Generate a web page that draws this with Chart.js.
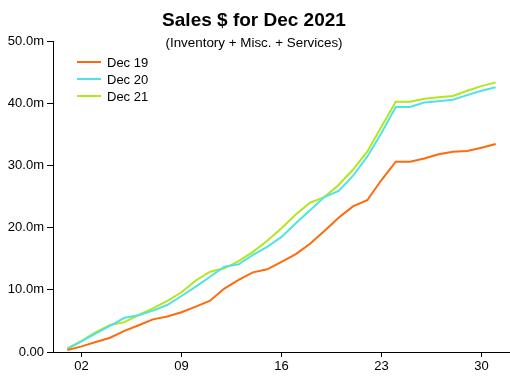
<!DOCTYPE html>
<html>
<head>
<meta charset="utf-8">
<script src="https://cdn.jsdelivr.net/npm/chart.js@4"></script>
<style>
  html, body { margin: 0; padding: 0; background: #fff; }
  #wrap { width: 510px; height: 382px; position: relative; }
</style>
</head>
<body>
<div id="wrap"><canvas id="salesChart"></canvas></div>
<script>
const days = [1,2,3,4,5,6,7,8,9,10,11,12,13,14,15,16,17,18,19,20,21,22,23,24,25,26,27,28,29,30,31];
const dec19 = [0.3,0.9,1.6,2.3,3.4,4.3,5.25,5.7,6.4,7.3,8.25,10.2,11.6,12.8,13.3,14.5,15.75,17.4,19.45,21.6,23.4,24.4,27.65,30.6,30.6,31.1,31.8,32.2,32.3,32.85,33.45];
const dec20 = [0.45,1.7,3.0,4.2,5.5,5.9,6.65,7.55,9.0,10.5,12.1,13.7,14.1,15.6,16.9,18.5,20.7,22.8,24.9,25.9,28.3,31.4,35.2,39.4,39.4,40.1,40.3,40.55,41.3,42.0,42.55];
const dec21 = [0.6,1.8,3.2,4.35,4.8,5.95,7.0,8.2,9.6,11.5,12.9,13.45,14.6,16.1,17.9,19.9,22.1,24.0,24.9,26.85,29.3,32.2,36.2,40.25,40.25,40.7,40.95,41.15,42.0,42.75,43.35];
const seriesNames = ['Dec 19', 'Dec 20', 'Dec 21'];
const xTicks = [2, 9, 16, 23, 30];
const yTicks = [0, 10, 20, 30, 40, 50];
const chartTitle = 'Sales $ for Dec 2021';
const chartSubtitle = '(Inventory + Misc. + Services)';

const colors = ['#ff6a0a', '#50e3e3', '#b2e61e'];
const FONT = '"Liberation Sans", Arial, sans-serif';

function toPoints(vals) {
    return vals.map((v, i) => ({ x: days[i], y: v }));
}

// title, subtitle and in-plot legend
const decorPlugin = {
    id: 'decor',
    afterDraw(chart) {
        const ctx = chart.ctx;
        ctx.save();
        ctx.fillStyle = '#000';
        ctx.textAlign = 'center';
        ctx.textBaseline = 'middle';
        ctx.font = 'bold 19px ' + FONT;
        ctx.fillText(chartTitle, 254, 21);
        ctx.font = '13.4px ' + FONT;
        ctx.fillText(chartSubtitle, 254, 43);

        ctx.textAlign = 'left';
        chart.data.datasets.forEach((ds, i) => {
            const y = 62 + i * 17;
            ctx.strokeStyle = ds.borderColor;
            ctx.lineWidth = 2;
            ctx.beginPath();
            ctx.moveTo(77, y);
            ctx.lineTo(101, y);
            ctx.stroke();
            ctx.fillStyle = '#000';
            ctx.font = '13px ' + FONT;
            ctx.fillText(ds.label, 107, y + 1);
        });
        ctx.restore();
    }
};

const ctx = document.getElementById('salesChart').getContext('2d');
new Chart(ctx, {
    type: 'line',
    data: {
        datasets: [dec19, dec20, dec21].map((vals, i) => ({
            label: seriesNames[i],
            data: toPoints(vals),
            borderColor: colors[i],
            backgroundColor: colors[i],
            borderWidth: 2,
            pointRadius: 0,
            tension: 0,
            fill: false
        }))
    },
    options: {
        responsive: true,
        maintainAspectRatio: false,
        animation: false,
        layout: { padding: { top: 41, right: 0, bottom: 0, left: 0 } },
        plugins: {
            legend: { display: false },
            title: { display: false },
            tooltip: { enabled: false }
        },
        scales: {
            x: {
                type: 'linear',
                min: 0,
                max: 32,
                afterBuildTicks: (scale) => { scale.ticks = xTicks.map(v => ({ value: v })); },
                afterFit: (scale) => { scale.height = 30; },
                border: { display: true, color: '#000', width: 1 },
                grid: { display: true, drawOnChartArea: false, drawTicks: true, tickLength: 5, color: '#000' },
                ticks: {
                    color: '#000',
                    font: { family: FONT, size: 13 },
                    padding: 2,
                    maxRotation: 0,
                    callback: (v) => String(v).padStart(2, '0')
                }
            },
            y: {
                min: 0,
                max: 50,
                afterBuildTicks: (scale) => { scale.ticks = yTicks.map(v => ({ value: v })); },
                afterFit: (scale) => { scale.width = 53; },
                border: { display: true, color: '#000', width: 1 },
                grid: { display: true, drawOnChartArea: false, drawTicks: true, tickLength: 6, color: '#000' },
                ticks: {
                    color: '#000',
                    font: { family: FONT, size: 13 },
                    padding: 3,
                    callback: (v) => v === 0 ? '0.00' : v.toFixed(1) + 'm'
                }
            }
        }
    },
    plugins: [decorPlugin]
});
</script>
</body>
</html>
